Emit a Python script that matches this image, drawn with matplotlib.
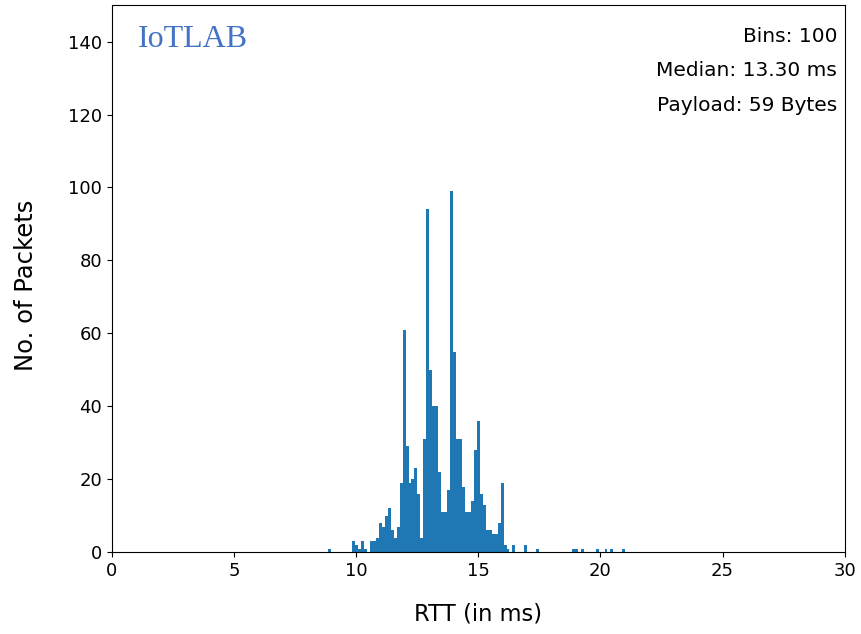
import numpy as np
import matplotlib
matplotlib.use('Agg')
import matplotlib.pyplot as plt

# RTT histogram, 100 bins between the min and max measured RTT
rtt_min = 8.86
rtt_max = 21.02
counts = [
    1, 0, 0, 0, 0, 0, 0, 0, 3, 2,
    1, 3, 1, 0, 3, 3, 4, 8, 7, 10,
    12, 6, 4, 7, 19, 61, 29, 19, 20, 23,
    16, 4, 31, 94, 50, 40, 40, 22, 11, 11,
    17, 99, 55, 31, 31, 18, 11, 11, 14, 28,
    36, 16, 13, 6, 6, 5, 5, 8, 19, 2,
    1, 0, 2, 0, 0, 0, 2, 0, 0, 0,
    1, 0, 0, 0, 0, 0, 0, 0, 0, 0,
    0, 0, 1, 1, 0, 1, 0, 0, 0, 0,
    1, 0, 0, 1, 0, 1, 0, 0, 0, 1,
]
n_bins = 100
median_rtt = 13.30
payload = 59

edges = np.linspace(rtt_min, rtt_max, n_bins + 1)

fig = plt.figure(figsize=(8.61, 6.34), dpi=100)
ax = fig.add_axes([0.130, 0.129, 0.851, 0.863])

ax.hist(edges[:-1], bins=edges, weights=counts, color='#1f77b4')

ax.set_xlim(0, 30)
ax.set_ylim(0, 150)
ax.set_xticks(range(0, 31, 5))
ax.set_yticks(range(0, 141, 20))
ax.tick_params(labelsize=13)
ax.set_xlabel('RTT (in ms)', fontsize=16.3, labelpad=16)
ax.set_ylabel('No. of Packets', fontsize=17.5, labelpad=22, y=0.487)

ax.text(0.035, 0.963, 'IoTLAB', transform=ax.transAxes, fontsize=23,
        family='Liberation Serif', color='#4472c4', ha='left', va='top')

info = ['Bins: %d' % n_bins, 'Median: %.2f ms' % median_rtt,
        'Payload: %d Bytes' % payload]
for i, s in enumerate(info):
    ax.text(0.990, 0.943 - i * 0.063, s, transform=ax.transAxes,
            fontsize=14.5, ha='right', va='center')

fig.savefig('out.png', dpi=100)
